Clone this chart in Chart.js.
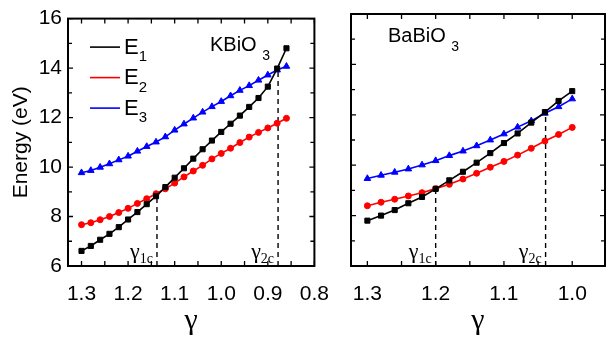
<!DOCTYPE html>
<html><head><meta charset="utf-8">
<script src="https://cdn.jsdelivr.net/npm/chart.js@4"></script>
<style>
html,body{margin:0;padding:0;background:#fff;width:610px;height:341px;overflow:hidden}
#wrap{position:relative;width:610px;height:341px}
canvas{position:absolute;top:0}
#c1{left:0;width:345px;height:341px}
#c2{left:330px;width:280px;height:341px}
</style></head>
<body><div id="wrap"><canvas id="c1" width="345" height="341"></canvas><canvas id="c2" width="280" height="341"></canvas></div>
<script>
// ---------- DATA ----------
const gammaK = [1.30,1.28,1.26,1.24,1.22,1.20,1.18,1.16,1.14,1.12,1.10,1.08,1.06,1.04,1.02,1.00,0.98,0.96,0.94,0.92,0.90,0.88,0.86];
const E1K = [6.61,6.81,7.06,7.30,7.57,7.88,8.18,8.50,8.82,9.19,9.57,9.95,10.34,10.72,11.07,11.42,11.75,12.08,12.43,12.79,13.25,13.98,14.80];
const E2K = [7.67,7.75,7.87,8.00,8.16,8.33,8.53,8.72,8.92,9.12,9.35,9.60,9.84,10.07,10.33,10.55,10.76,10.99,11.21,11.40,11.58,11.77,11.97];
const E3K = [9.77,9.86,9.99,10.13,10.29,10.44,10.64,10.83,11.01,11.22,11.49,11.74,11.98,12.22,12.44,12.65,12.88,13.10,13.29,13.51,13.72,13.92,14.07];

const gammaB = [1.30,1.28,1.26,1.24,1.22,1.20,1.18,1.16,1.14,1.12,1.10,1.08,1.06,1.04,1.02,1.00];
const E1B = [7.80,8.00,8.22,8.49,8.74,9.06,9.40,9.74,10.10,10.48,10.88,11.26,11.69,12.11,12.55,12.94];
const E2B = [8.39,8.53,8.65,8.78,8.91,9.07,9.24,9.45,9.68,9.92,10.15,10.40,10.67,10.96,11.22,11.50];
const E3B = [9.47,9.60,9.72,9.85,10.01,10.18,10.38,10.56,10.77,11.00,11.24,11.51,11.76,12.06,12.32,12.63];

// critical gamma values and the energy where each dashed marker ends
const critGammaK = [1.138, 0.878];
const critEnergyK = [8.85, 13.95];
const critGammaB = [1.200, 1.039];
const critEnergyB = [9.06, 12.10];
const critLabels = ['1c', '2c'];

const seriesLabels = ['E1', 'E2', 'E3'];
const yTicks = [6, 8, 10, 12, 14, 16];
const xTicksK = [1.3, 1.2, 1.1, 1.0, 0.9, 0.8];
const xTicksB = [1.3, 1.2, 1.1, 1.0];
const yRange = [6, 16];
const xRangeK = [0.8, 1.329];
const xRangeB = [0.952, 1.324];

// ---------- STYLE ----------
const COLORS = ['#000000', '#ff0000', '#0000ff'];
const SHAPES = ['rect', 'circle', 'triangle'];
const RADII = [3.6, 3.0, 3.8];
const SANS = "'Liberation Sans', Arial, sans-serif";
const SERIF = "'Liberation Serif', 'Times New Roman', serif";

function pts(xs, ys) { return xs.map((x, i) => ({x: x, y: ys[i]})); }

function buildDatasets(g, series, critG, critE) {
  const ds = series.map((s, i) => ({
    label: seriesLabels[i],
    data: pts(g, s),
    showLine: true,
    borderColor: COLORS[i],
    backgroundColor: COLORS[i],
    borderWidth: 1.6,
    pointStyle: SHAPES[i],
    pointRadius: RADII[i],
    pointBorderWidth: 1,
    pointBorderColor: COLORS[i],
    pointBackgroundColor: COLORS[i],
    tension: 0
  }));
  critG.forEach((cg, i) => {
    ds.push({
      label: 'crit' + i,
      data: [{x: cg, y: yRange[0]}, {x: cg, y: critE[i]}],
      showLine: true,
      borderColor: '#000',
      borderWidth: 1.4,
      borderDash: [5, 4],
      pointRadius: 0,
      tension: 0
    });
  });
  return ds;
}

const decorPlugin = {
  id: 'decor',
  afterDatasetsDraw(chart, args, o) {
    const ctx = chart.ctx;
    const {left, right, top, bottom} = chart.chartArea;
    const xs = chart.scales.x, ys = chart.scales.y;
    ctx.save();
    // frame
    ctx.strokeStyle = '#000';
    ctx.lineWidth = 2;
    ctx.strokeRect(left, top, right - left, bottom - top);
    // inward ticks
    ctx.lineWidth = 1.3;
    const majX = xs.ticks.map(t => t.value).sort((a, b) => a - b);
    const minX = [];
    for (let i = 0; i < majX.length - 1; i++) minX.push((majX[i] + majX[i + 1]) / 2);
    const lo = Math.min(xs.min, xs.max), hi = Math.max(xs.min, xs.max);
    if (majX.length > 1) {
      const st = majX[1] - majX[0];
      const a = majX[0] - st / 2, b = majX[majX.length - 1] + st / 2;
      if (a > lo) minX.push(a);
      if (b < hi) minX.push(b);
    }
    const majY = ys.ticks.map(t => t.value);
    const minY = [];
    for (let i = 0; i < majY.length - 1; i++) minY.push((majY[i] + majY[i + 1]) / 2);
    ctx.beginPath();
    const tx = (v, len) => {
      const p = xs.getPixelForValue(v);
      ctx.moveTo(p, bottom); ctx.lineTo(p, bottom - len);
      ctx.moveTo(p, top); ctx.lineTo(p, top + len);
    };
    const ty = (v, len) => {
      const p = ys.getPixelForValue(v);
      ctx.moveTo(left, p); ctx.lineTo(left + len, p);
      ctx.moveTo(right, p); ctx.lineTo(right - len, p);
    };
    majX.forEach(v => tx(v, 5)); minX.forEach(v => tx(v, 5));
    majY.forEach(v => ty(v, 5)); minY.forEach(v => ty(v, 4));
    ctx.stroke();

    ctx.fillStyle = '#000';
    ctx.textAlign = 'left';
    ctx.textBaseline = 'alphabetic';
    // compound title e.g. KBiO3
    if (o.title) {
      ctx.font = '20px ' + SANS;
      const tx0 = left + o.titleDX, tb = top + o.titleDY;
      ctx.fillText(o.title, tx0, tb);
      const w = ctx.measureText(o.title + ' ').width;
      ctx.font = '14px ' + SANS;
      ctx.fillText(o.titleSub, tx0 + w, tb + 9);
    }
    // legend
    if (o.legend) {
      chart.data.datasets.slice(0, 3).forEach((d, i) => {
        const base = top + 35 + i * 30.5;
        ctx.strokeStyle = d.borderColor;
        ctx.lineWidth = 1.6;
        ctx.beginPath();
        ctx.moveTo(left + 22, base - 6.5);
        ctx.lineTo(left + 52, base - 6.5);
        ctx.stroke();
        ctx.font = '22px ' + SANS;
        ctx.fillText(d.label.charAt(0), left + 56, base);
        const w = ctx.measureText(d.label.charAt(0)).width;
        ctx.font = '15px ' + SANS;
        ctx.fillText(d.label.slice(1), left + 56 + w, base + 7.6);
      });
    }
    // critical gamma labels
    (o.crit || []).forEach((cg, i) => {
      const px = xs.getPixelForValue(cg);
      ctx.font = '14px ' + SERIF;
      const ws = ctx.measureText(critLabels[i]).width;
      ctx.font = '22px ' + SERIF;
      const wg = ctx.measureText('\u03B3').width;
      const end = px - 4;
      ctx.fillText('\u03B3', end - ws - wg, bottom - 8);
      ctx.font = '14px ' + SERIF;
      ctx.fillText(critLabels[i], end - ws, bottom - 3);
    });
    ctx.restore();
  }
};

function makeChart(id, g, series, critG, critE, xRange, xTicks, showY, pad, deco) {
  return new Chart(document.getElementById(id), {
    type: 'scatter',
    data: {datasets: buildDatasets(g, series, critG, critE)},
    plugins: [decorPlugin],
    options: {
      responsive: false,
      animation: false,
      layout: {padding: pad},
      plugins: {legend: {display: false}, tooltip: {enabled: false}, decor: deco},
      scales: {
        x: {
          type: 'linear', reverse: true, min: xRange[0], max: xRange[1],
          afterBuildTicks: s => { s.ticks = xTicks.map(v => ({value: v})); },
          afterFit: s => { s.height = 75; },
          grid: {display: false, drawTicks: false}, border: {display: false},
          ticks: {color: '#000', font: {family: SANS, size: 21}, padding: 16,
                  callback: v => Number(v).toFixed(1), maxRotation: 0, autoSkip: false},
          title: {display: true, text: '\u03B3', color: '#000',
                  font: {family: SERIF, size: 30}, padding: {top: 0, bottom: 2}}
        },
        y: {
          type: 'linear', min: yRange[0], max: yRange[1],
          afterBuildTicks: s => { s.ticks = yTicks.map(v => ({value: v})); },
          afterFit: s => { s.width = showY ? 68 : 0; },
          grid: {display: false, drawTicks: false}, border: {display: false},
          ticks: {display: showY, color: '#000', font: {family: SANS, size: 21}, padding: 6},
          title: {display: showY, text: 'Energy (eV)', color: '#000',
                  font: {family: SANS, size: 21}, padding: {top: 9, bottom: 0}}
        }
      }
    }
  });
}

makeChart('c1', gammaK, [E1K, E2K, E3K], critGammaK, critEnergyK, xRangeK, xTicksK, true,
  {left: 0, right: 19, top: 14, bottom: 0},
  {legend: true, title: 'KBiO', titleSub: '3', titleDX: 142, titleDY: 32, crit: critGammaK});
makeChart('c2', gammaB, [E1B, E2B, E3B], critGammaB, critEnergyB, xRangeB, xTicksB, false,
  {left: 21, right: 3, top: 14, bottom: 0},
  {legend: false, title: 'BaBiO', titleSub: '3', titleDX: 37, titleDY: 28, crit: critGammaB});
</script>
</body></html>
